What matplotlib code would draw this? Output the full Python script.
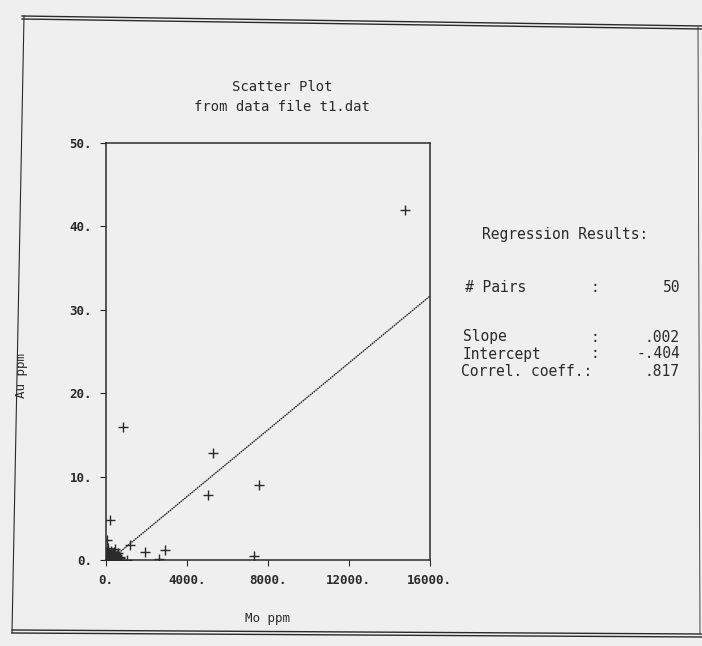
import matplotlib
matplotlib.use("Agg")
import matplotlib.pyplot as plt
from matplotlib.lines import Line2D
import numpy as np

# ---- data ----
mo_ppm = [14800, 850, 5280, 5020, 7540, 7300, 200, 65, 1180, 1910, 2900, 2600, 1040, 440,
          20, 40, 60, 80, 100, 120, 150, 180, 200, 230, 260, 300, 320, 350, 380, 400,
          420, 450, 480, 500, 520, 550, 580, 600, 640, 680, 50, 110, 170, 250, 330, 410,
          470, 560, 30, 700]
au_ppm = [42.0, 16.0, 12.8, 7.8, 9.0, 0.5, 4.8, 2.4, 1.8, 0.95, 1.2, 0.15, 0.05, 1.3,
          0.1, 0.3, 0.8, 1.5, 0.2, 0.5, 0.9, 0.1, 0.4, 1.1, 0.2, 0.6, 0.05, 0.3, 0.7, 0.15,
          1.0, 0.2, 0.4, 0.1, 0.6, 0.3, 0.05, 0.8, 0.2, 0.4, 1.2, 0.05, 0.35, 0.5, 0.9, 0.25,
          0.1, 0.45, 0.6, 0.2]
slope = 0.002
intercept = -0.404
n_pairs = 50
correl = 0.817
line_x = [450, 16000]

x_ticks = [0, 4000, 8000, 12000, 16000]
x_tick_labels = ["0.", "4000.", "8000.", "12000.", "16000."]
y_ticks = [0, 10, 20, 30, 40, 50]
y_tick_labels = ["0.", "10.", "20.", "30.", "40.", "50."]

BG = "#efefef"
INK = "#2a2a2a"
FONT = "DejaVu Sans Mono"

fig = plt.figure(figsize=(7.02, 6.46), dpi=100, facecolor=BG)
ax = fig.add_axes([0.151, 0.133, 0.461, 0.646])
ax.set_facecolor(BG)

ax.scatter(mo_ppm, au_ppm, marker="+", s=42, linewidths=1.0, color=INK, zorder=3)
lx = np.array(line_x, dtype=float)
ax.plot(lx, slope * lx + intercept, color=INK, linewidth=1.0,
        linestyle=(0, (1.2, 0.5)), zorder=2)

ax.set_xlim(0, 16000)
ax.set_ylim(0, 50)
ax.set_xticks(x_ticks)
ax.set_xticklabels(x_tick_labels, fontfamily=FONT, fontsize=9, color=INK, fontweight="bold")
ax.set_yticks(y_ticks)
ax.set_yticklabels(y_tick_labels, fontfamily=FONT, fontsize=9, color=INK, fontweight="bold")
ax.tick_params(direction="out", length=4, width=0.8, color=INK, pad=6)
for s in ax.spines.values():
    s.set_color(INK)
    s.set_linewidth(1.1)

ax.set_xlabel("Mo ppm", fontfamily=FONT, fontsize=9, color=INK, labelpad=18)
fig.text(22 / 702, 1 - 375 / 646, "Au ppm", rotation=90, ha="center", va="center",
         fontfamily=FONT, fontsize=9, color=INK)

fig.text(282 / 702, 1 - 87 / 646, "Scatter Plot", ha="center", va="center",
         fontfamily=FONT, fontsize=10, color=INK)
fig.text(282 / 702, 1 - 107 / 646, "from data file t1.dat", ha="center", va="center",
         fontfamily=FONT, fontsize=10, color=INK)

# regression results panel
def ftxt(x, y, s, ha="left"):
    fig.text(x / 702, 1 - y / 646, s, ha=ha, va="center",
             fontfamily=FONT, fontsize=10.5, color=INK)

def fmt(v):
    s = f"{v:.3f}"
    return s.replace("0.", ".", 1) if s.startswith("0.") or s.startswith("-0.") else s

ftxt(565, 235, "Regression Results:", ha="center")
ftxt(465, 287, "# Pairs")
ftxt(590, 287, ":")
ftxt(680, 287, f"{n_pairs}", ha="right")
ftxt(463, 337, "Slope")
ftxt(590, 337, ":")
ftxt(680, 337, fmt(slope), ha="right")
ftxt(463, 354, "Intercept")
ftxt(590, 354, ":")
ftxt(680, 354, fmt(intercept), ha="right")
ftxt(461, 372, "Correl. coeff.:")
ftxt(680, 372, fmt(correl), ha="right")

# page border (double rules top and bottom)
def fline(x0, y0, x1, y1, lw=1.0):
    fig.add_artist(Line2D([x0 / 702, x1 / 702], [1 - y0 / 646, 1 - y1 / 646],
                          color=INK, linewidth=lw))

fline(22, 16, 702, 26)
fline(22, 19, 702, 29)
fline(12, 630, 702, 634)
fline(12, 633, 702, 637)
fline(24, 16, 12, 633, lw=0.8)
fline(698, 27, 700, 634, lw=0.6)

fig.savefig("out.png", dpi=100, facecolor=BG)
